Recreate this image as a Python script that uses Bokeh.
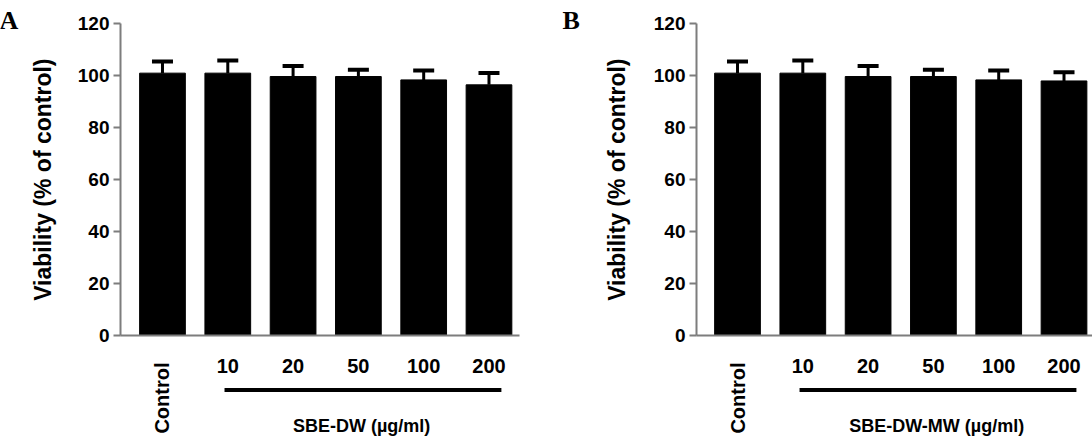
import math

from bokeh.embed import file_html
from bokeh.layouts import row
from bokeh.models import (ColumnDataSource, FixedTicker, Label, LinearAxis,
                          Range1d, TeeHead, Whisker)
from bokeh.plotting import figure
from bokeh.resources import INLINE

# Treatment groups (first is the untreated control, the rest are doses in µg/ml)
categories = ["Control", "10", "20", "50", "100", "200"]

# Panel A: SBE-DW
viability_dw = [101.0, 101.0, 99.7, 99.7, 98.4, 96.5]
error_dw = [4.5, 4.9, 4.1, 2.6, 3.6, 4.6]

# Panel B: SBE-DW-MW
viability_dw_mw = [101.0, 101.0, 99.7, 99.7, 98.4, 98.0]
error_dw_mw = [4.5, 4.9, 4.1, 2.6, 3.6, 3.3]

y_ticks = [0, 20, 40, 60, 80, 100, 120]

SANS = "Liberation Sans"
SERIF = "Liberation Serif"
AXIS_GREY = "#7d7d7d"

HEIGHT = 436
STEP_PX = 65.3          # pixels between neighbouring bars
Y_TOP_PX = 23.3         # canvas row of the top of the value axis
Y_ZERO_PX = 335.0       # canvas row of the zero line


def make_panel(letter, means, errors, group_label, width, axis_px, axis_left,
               axis_right):
    # the frame fills the whole canvas; everything lives in data space
    upp = (y_ticks[-1] - y_ticks[0]) / (Y_ZERO_PX - Y_TOP_PX)   # units per px
    y_start = y_ticks[0] - (HEIGHT - Y_ZERO_PX) * upp
    y_end = y_ticks[-1] + Y_TOP_PX * upp
    x_start = axis_left - axis_px / STEP_PX
    x_end = x_start + width / STEP_PX

    def below(px):
        """data y for a point `px` pixels under the zero line"""
        return y_ticks[0] - px * upp

    pos = list(range(len(categories)))
    upper = [m + e for m, e in zip(means, errors)]
    src = ColumnDataSource(dict(x=pos, top=means, upper=upper))

    p = figure(width=width, height=HEIGHT,
               x_range=Range1d(x_start, x_end), y_range=Range1d(y_start, y_end),
               x_axis_location=None, y_axis_location=None,
               output_backend="svg", toolbar_location=None,
               min_border=0, background_fill_color="white",
               border_fill_color="white")
    p.outline_line_color = None
    p.grid.grid_line_color = None

    p.vbar(x="x", top="top", width=0.70, source=src,
           fill_color="black", line_color="black", line_width=1)

    p.add_layout(Whisker(base="x", lower="top", upper="upper", source=src,
                         dimension="height", line_color="black", line_width=3,
                         upper_head=TeeHead(size=21, line_color="black",
                                            line_width=4),
                         lower_head=None))

    # value axis
    yax = LinearAxis(fixed_location=axis_left, bounds=(y_ticks[0], y_ticks[-1]),
                     ticker=FixedTicker(ticks=y_ticks))
    yax.axis_line_color = AXIS_GREY
    yax.axis_line_width = 2
    yax.major_tick_line_color = AXIS_GREY
    yax.major_tick_line_width = 2
    yax.major_tick_in = 0
    yax.major_tick_out = 7
    yax.minor_tick_line_color = None
    yax.major_label_text_font = SANS
    yax.major_label_text_font_style = "bold"
    yax.major_label_text_font_size = "19px"
    yax.major_label_text_color = "black"
    yax.major_label_standoff = 4
    p.add_layout(yax, "left")

    # category axis: dose labels on the axis, control label rotated separately
    dose_pos = pos[1:]
    xax = LinearAxis(fixed_location=y_ticks[0], bounds=(axis_left, axis_right),
                     ticker=FixedTicker(ticks=dose_pos))
    xax.major_label_overrides = {i: categories[i] for i in dose_pos}
    xax.axis_line_color = AXIS_GREY
    xax.axis_line_width = 2
    xax.major_tick_line_color = None
    xax.minor_tick_line_color = None
    xax.major_tick_out = 0
    xax.major_tick_in = 0
    xax.major_label_standoff = 23
    xax.major_label_text_font = SANS
    xax.major_label_text_font_style = "bold"
    xax.major_label_text_font_size = "20px"
    xax.major_label_text_color = "black"
    p.add_layout(xax, "below")

    text_style = dict(text_font=SANS, text_font_style="bold", text_color="black")

    p.add_layout(Label(x=pos[0], y=below(27), angle=math.pi / 2,
                       text=categories[0], text_align="right",
                       text_baseline="middle", text_font_size="20px",
                       **text_style))

    # bracket line under the dose groups and its caption
    y_line = below(54.5)
    p.segment(x0=[dose_pos[0] - 0.05], y0=[y_line],
              x1=[dose_pos[-1] + 0.19], y1=[y_line],
              line_color="black", line_width=4)
    mid = (dose_pos[0] + dose_pos[-1]) / 2 + 0.05
    p.add_layout(Label(x=mid, y=below(90), text=group_label,
                       text_align="center", text_baseline="alphabetic",
                       text_font_size="18px", **text_style))

    # axis title
    p.add_layout(Label(x=axis_left - (axis_px - (42 if letter == "A" else 70)) / STEP_PX,
                       y=(y_ticks[0] + y_ticks[-1]) / 2, angle=math.pi / 2,
                       text="Viability (% of control)", text_align="center",
                       text_baseline="middle", text_font_size="23px",
                       **text_style))

    # panel letter
    p.add_layout(Label(x=x_start + (-1 if letter == "A" else 16) / STEP_PX,
                       y=y_end - 5 * upp, text=letter, text_font=SERIF,
                       text_font_style="bold", text_font_size="26px",
                       text_color="black", text_baseline="top",
                       text_align="left"))
    return p


pa = make_panel("A", viability_dw, error_dw, "SBE-DW (µg/ml)",
                546, 120, -0.643, 5.464)
pb = make_panel("B", viability_dw_mw, error_dw_mw, "SBE-DW-MW (µg/ml)",
                546, 150, -0.628, 5.44)

layout = row(pa, pb, spacing=0)
open("out.html", "w").write(file_html(layout, INLINE))
